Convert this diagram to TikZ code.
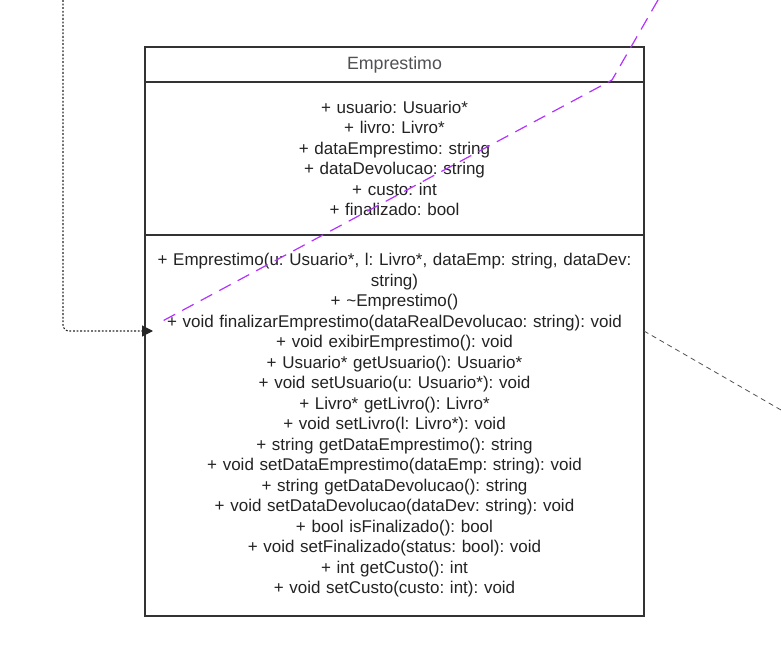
\documentclass[tikz,border=0pt]{standalone}
\usepackage{fontspec}
\setmainfont{Liberation Sans}
\usetikzlibrary{arrows.meta,positioning}
\definecolor{umlline}{RGB}{51,51,51}
\definecolor{umltext}{RGB}{35,35,35}
\definecolor{umlhead}{RGB}{80,80,85}
\definecolor{umlpurple}{RGB}{178,50,255}
\definecolor{umlgray}{RGB}{80,80,80}

\begin{document}
\frenchspacing
\begin{tikzpicture}[x=1pt,y=-1pt,
    every node/.style={font=\fontsize{17}{20.5}\selectfont},
    umlpart/.style={draw=umlline,line width=1.4pt,fill=white,outer sep=0pt,
        minimum width=499pt,text width=490pt,align=center,inner sep=0pt,
        text=umltext},
    link/.style={black!85,line width=1.1pt,dash pattern=on 1.8pt off 1.8pt},
    assoc/.style={umlgray,line width=0.8pt,dash pattern=on 5pt off 4pt}]
  \useasboundingbox (0,0) rectangle (781,666);

  \coordinate (top) at (63,0);
  \coordinate (into) at (153,331);
  \coordinate (ptop) at (658,0);
  \coordinate (pbend) at (612,80);
  \coordinate (pend) at (157,324);
  \coordinate (out) at (644,331);
  \coordinate (far) at (781,410);

  \node[umlpart,anchor=north,minimum height=35pt,text=umlhead,
        font=\fontsize{17.8}{20.5}\selectfont] (head) at (394.5,47)
    {Emprestimo};
  \node[umlpart,minimum height=153pt,below=0pt of head] (attrs)
    {+ usuario: Usuario*\\
     + livro: Livro*\\
     + dataEmprestimo: string\\
     + dataDevolucao: string\\
     + custo: int\\
     + finalizado: bool};
  \node[umlpart,minimum height=381pt,below=0pt of attrs] (ops)
    {+ Emprestimo(u: Usuario*, l: Livro*, dataEmp: string, dataDev:\\
     string)\\
     + \textasciitilde Emprestimo()\\
     + void finalizarEmprestimo(dataRealDevolucao: string): void\\
     + void exibirEmprestimo(): void\\
     + Usuario* getUsuario(): Usuario*\\
     + void setUsuario(u: Usuario*): void\\
     + Livro* getLivro(): Livro*\\
     + void setLivro(l: Livro*): void\\
     + string getDataEmprestimo(): string\\
     + void setDataEmprestimo(dataEmp: string): void\\
     + string getDataDevolucao(): string\\
     + void setDataDevolucao(dataDev: string): void\\
     + bool isFinalizado(): bool\\
     + void setFinalizado(status: bool): void\\
     + int getCusto(): int\\
     + void setCusto(custo: int): void};

  \draw[link,rounded corners=6pt,-{Triangle[length=11pt,width=11pt,sep=0pt]}]
    (top) |- (into);
  \draw[umlpurple,line width=1.2pt,dash pattern=on 13pt off 8pt]
    (ptop) -- (pbend) -- (pend);
  \draw[assoc] (out) -- (far);
\end{tikzpicture}
\end{document}
